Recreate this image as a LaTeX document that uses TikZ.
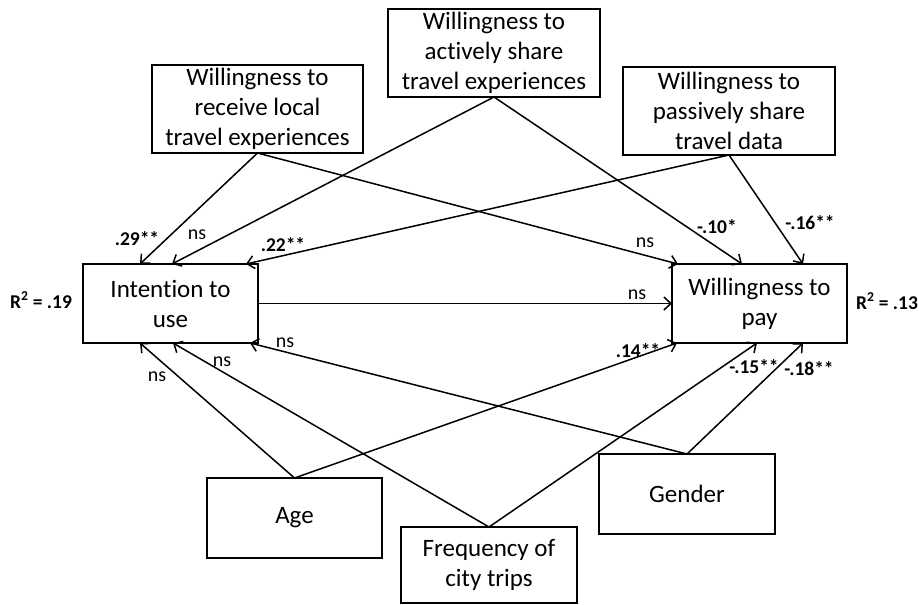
\documentclass[tikz,border=0pt]{standalone}
\usepackage{fontspec}
\setmainfont{Carlito}[Ligatures=NoCommon]
\usetikzlibrary{arrows.meta}
\begin{document}
\begin{tikzpicture}[x=1pt,y=-1pt,
  box/.style={draw, line width=2pt, align=center, inner sep=0pt, outer sep=0pt,
    font=\fontsize{25}{30}\selectfont},
  conn/.style={line width=1.5pt, -{Straight Barb[length=7pt,width=13pt,line width=1.5pt]}},
  coef/.style={font=\fontsize{19.5}{21}\selectfont\bfseries, inner sep=0pt},
  nslab/.style={font=\fontsize{20}{21}\selectfont, inner sep=0pt}]
\useasboundingbox (0,0) rectangle (919,605);
% boxes
\node[box, minimum width=211pt, minimum height=88pt] (recv) at (257.5,109) {Willingness to\\receive local\\travel experiences};
\node[box, minimum width=212pt, minimum height=88pt] (act) at (494,53) {Willingness to\\actively share\\travel experiences};
\node[box, minimum width=212pt, minimum height=88pt] (pas) at (729,111) {Willingness to\\passively share\\travel data};
\node[box, minimum width=175pt, minimum height=79pt] (int) at (170.5,303.5) {Intention to\\use};
\node[box, minimum width=175pt, minimum height=79pt] (wtp) at (759.5,303.5) {Willingness to\\pay};
\node[box, minimum width=175pt, minimum height=80pt] (age) at (294.5,518) {Age};
\node[box, minimum width=176pt, minimum height=76pt] (freq) at (489,565) {Frequency of\\city trips};
\node[box, minimum width=176pt, minimum height=80pt] (gen) at (687,494) {Gender};
% target points
\coordinate (i1) at ([xshift=57pt]int.north west);
\coordinate (i2) at ([xshift=89pt]int.north west);
\coordinate (i3) at ([xshift=163pt]int.north west);
\coordinate (s1) at ([xshift=57pt]int.south west);
\coordinate (s2) at ([xshift=90pt]int.south west);
\coordinate (s3) at ([xshift=167pt]int.south west);
\coordinate (w1) at ([xshift=6pt]wtp.north west);
\coordinate (w2) at ([xshift=70pt]wtp.north west);
\coordinate (w3) at ([xshift=131pt]wtp.north west);
\coordinate (v1) at ([xshift=5pt]wtp.south west);
\coordinate (v2) at ([xshift=85pt]wtp.south west);
\coordinate (v3) at ([xshift=131pt]wtp.south west);
% connectors
\draw[conn] (recv.south) -- (i1);
\draw[conn] (act.south) -- (i2);
\draw[conn] (pas.south) -- (i3);
\draw[conn] (recv.south) -- (w1);
\draw[conn] (act.south) -- (w2);
\draw[conn] (pas.south) -- (w3);
\draw[conn] (int.east) -- (wtp.west);
\draw[conn] (age.north) -- (s1);
\draw[conn] (freq.north) -- (s2);
\draw[conn] (gen.north) -- (s3);
\draw[conn] (age.north) -- (v1);
\draw[conn] (freq.north) -- (v2);
\draw[conn] (gen.north) -- (v3);
% labels
\node[coef] (l1) at (137,239) {.29**};
\node[nslab] (l2) at (197,235) {ns};
\node[coef] (l3) at (283,245) {.22**};
\node[nslab] (l4) at (645,243) {ns};
\node[coef] (l5) at (717,227) {-.10*};
\node[coef] (l6) at (810,223) {-.16**};
\node[nslab] (l7) at (637,295) {ns};
\node[nslab] (l8) at (157,377) {ns};
\node[nslab] (l9) at (222,362) {ns};
\node[nslab] (l10) at (285,343) {ns};
\node[coef] (l11) at (638,351) {.14**};
\node[coef] (l12) at (754,367) {-.15**};
\node[coef] (l13) at (809,369) {-.18**};
\node[coef] (r1) at (41,300) {R\textsuperscript{2} = .19};
\node[coef] (r2) at (887,301) {R\textsuperscript{2} = .13};
\end{tikzpicture}
\end{document}
